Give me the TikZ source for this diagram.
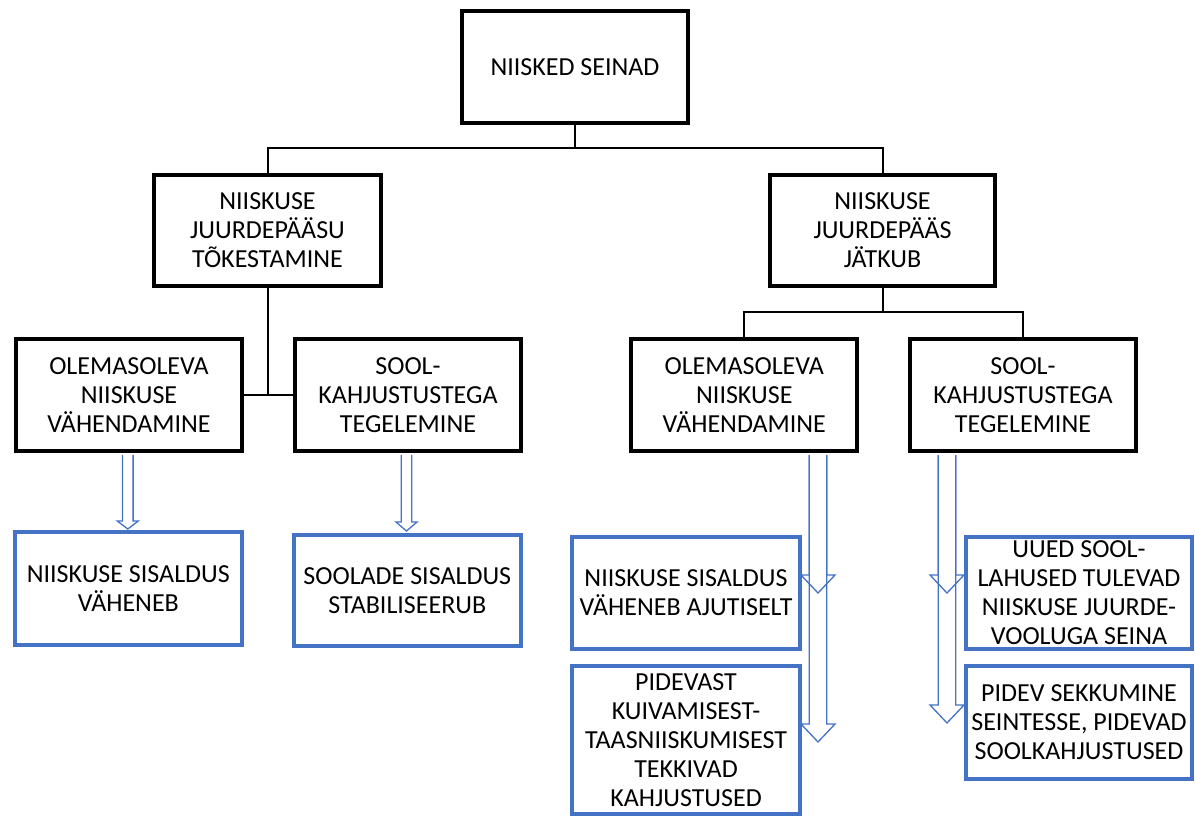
\documentclass[tikz,border=0pt]{standalone}
\usepackage{fontspec}
\setmainfont{Carlito}
\usetikzlibrary{calc}
\definecolor{boxblue}{HTML}{4472C4}
\tikzset{
  blackbox/.style={draw=black, line width=4pt, fill=white, inner sep=0pt,
    align=center, font=\fontsize{26}{29}\selectfont},
  bluebox/.style={draw=boxblue, line width=3.5pt, fill=white, inner sep=0pt,
    align=center, font=\fontsize{26}{29}\selectfont},
  conn/.style={draw=black, line width=2pt},
  hollow/.style={draw=boxblue, line width=1.3pt, line join=miter}
}
% hollow block arrow: start point, length, shaft half-width, head half-width, head length
\newcommand\hollowarrow[5]{%
  \draw[hollow] ($(#1)+(-#3,0)$) -- ++(0,#2-#5) -- ++(#3-#4,0) -- ++(#4,#5)
     -- ++(#4,-#5) -- ++(#3-#4,0) -- ++(0,#5-#2);}
\begin{document}
\begin{tikzpicture}[x=1pt, y=-1pt]
\useasboundingbox (0,0) rectangle (1195,817);
% top level
\node[blackbox, minimum width=226pt, minimum height=112pt] (top) at (575,67) {NIISKED SEINAD};
% second level
\node[blackbox, minimum width=227pt, minimum height=111pt] (m1) at (267.5,230.5) {NIISKUSE\\JUURDEPÄÄSU\\TÕKESTAMINE};
\node[blackbox, minimum width=225pt, minimum height=111pt] (m2) at (882.5,230.5) {NIISKUSE\\JUURDEPÄÄS\\JÄTKUB};
% third level
\node[blackbox, minimum width=226pt, minimum height=112pt] (b1) at (129,395) {OLEMASOLEVA\\NIISKUSE\\VÄHENDAMINE};
\node[blackbox, minimum width=226pt, minimum height=112pt] (b2) at (408,395) {SOOL-\\KAHJUSTUSTEGA\\TEGELEMINE};
\node[blackbox, minimum width=226pt, minimum height=112pt] (b3) at (744.3,395) {OLEMASOLEVA\\NIISKUSE\\VÄHENDAMINE};
\node[blackbox, minimum width=226pt, minimum height=112pt] (b4) at (1023,395) {SOOL-\\KAHJUSTUSTEGA\\TEGELEMINE};
% outcomes
\node[bluebox, minimum width=227pt, minimum height=113pt] (n1) at (128.3,588.5) {NIISKUSE SISALDUS\\VÄHENEB};
\node[bluebox, minimum width=227pt, minimum height=111pt] (n2) at (407.3,590.5) {SOOLADE SISALDUS\\STABILISEERUB};
\node[bluebox, minimum width=228pt, minimum height=112pt] (n3) at (686,593) {NIISKUSE SISALDUS\\VÄHENEB AJUTISELT};
\node[bluebox, minimum width=228pt, minimum height=148pt] (n4) at (686,740) {PIDEVAST\\KUIVAMISEST-\\TAASNIISKUMISEST\\TEKKIVAD\\KAHJUSTUSED};
\node[bluebox, minimum width=226pt, minimum height=112pt] (n5) at (1079,593) {UUED SOOL-\\LAHUSED TULEVAD\\NIISKUSE JUURDE-\\VOOLUGA SEINA};
\node[bluebox, minimum width=226pt, minimum height=113pt] (n6) at (1079,722.5) {PIDEV SEKKUMINE\\SEINTESSE, PIDEVAD\\SOOLKAHJUSTUSED};
% tree connectors
\coordinate (j1) at ($(top.south)+(0,23)$);
\draw[conn] (top.south) -- (j1);
\draw[conn] (m1.north) |- (j1) -| (m2.north);
\draw[conn] (m1.south) |- (b1.east);
\draw[conn] (b1.east) -- (b2.west);
\coordinate (j2) at ($(m2.south)+(0,24)$);
\draw[conn] (m2.south) -- (j2);
\draw[conn] (b3.north) |- (j2) -| (b4.north);
% result arrows
\coordinate (s1) at ($(b1.south)+(-1.2,2)$);
\coordinate (s2) at ($(b2.south)+(-1.5,2)$);
\coordinate (s3) at ($(b3.south)+(73.7,2)$);
\coordinate (s4) at ($(b4.south)+(-76,2)$);
\hollowarrow{s1}{74}{5.3}{10.5}{8}
\hollowarrow{s2}{76}{5.3}{10.5}{9}
\hollowarrow{s3}{287}{8.8}{17}{18}
\hollowarrow{s3}{138}{8.8}{17}{18}
\hollowarrow{s4}{268}{8.8}{17}{18}
\hollowarrow{s4}{138}{8.8}{17}{18}
\end{tikzpicture}
\end{document}
